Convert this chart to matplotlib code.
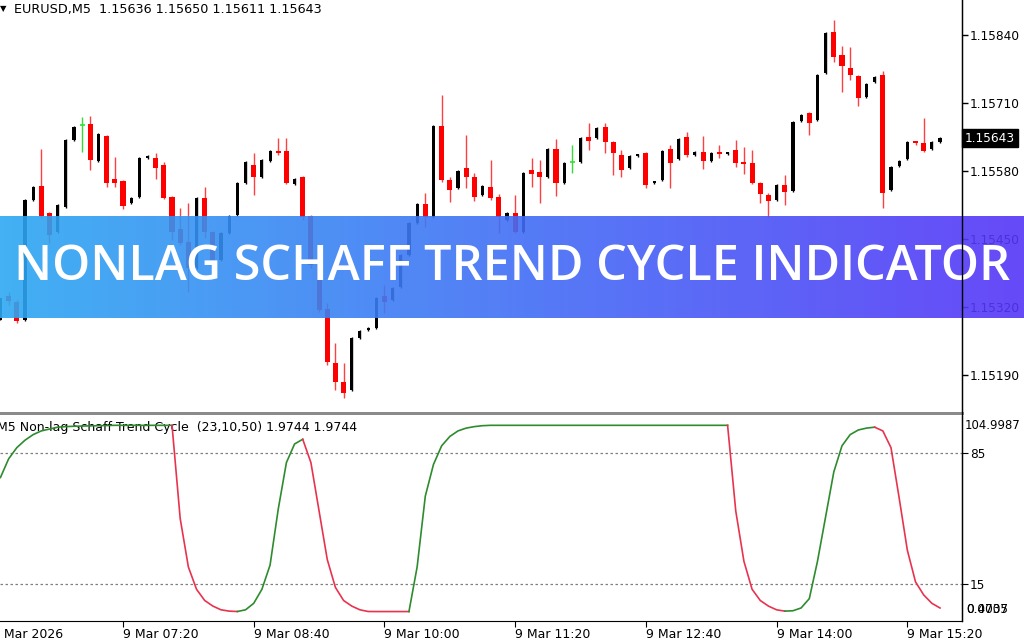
import numpy as np
import matplotlib
matplotlib.use("Agg")
import matplotlib.pyplot as plt
from matplotlib.colors import LinearSegmentedColormap
from matplotlib.patches import Rectangle
from matplotlib.lines import Line2D

# ---- data (EURUSD M5, 9 Mar 2026) ----
opens = [1.15295, 1.15341, 1.15330, 1.15295, 1.15525, 1.15551, 1.15500, 1.15463, 1.15511, 1.15639,
         1.15668, 1.15670, 1.15599, 1.15647, 1.15565, 1.15561, 1.15519, 1.15530, 1.15605, 1.15605,
         1.15591, 1.15530, 1.15469, 1.15444, 1.15395, 1.15528, 1.15463, 1.15410, 1.15461, 1.15496,
         1.15557, 1.15591, 1.15569, 1.15599, 1.15618, 1.15618, 1.15555, 1.15569, 1.15494, 1.15400,
         1.15316, 1.15213, 1.15177, 1.15161, 1.15261, 1.15276, 1.15280, 1.15341, 1.15333, 1.15358,
         1.15419, 1.15481, 1.15517, 1.15492, 1.15666, 1.15563, 1.15548, 1.15586, 1.15569, 1.15534,
         1.15549, 1.15530, 1.15486, 1.15500, 1.15463, 1.15582, 1.15578, 1.15569, 1.15622, 1.15557,
         1.15597, 1.15597, 1.15645, 1.15643, 1.15664, 1.15635, 1.15611, 1.15586, 1.15609, 1.15614,
         1.15557, 1.15563, 1.15622, 1.15603, 1.15645, 1.15611, 1.15616, 1.15599, 1.15614, 1.15613,
         1.15620, 1.15597, 1.15595, 1.15557, 1.15534, 1.15525, 1.15553, 1.15542, 1.15676, 1.15691,
         1.15678, 1.15767, 1.15846, 1.15802, 1.15777, 1.15762, 1.15722, 1.15750, 1.15764, 1.15544,
         1.15590, 1.15603, 1.15637, 1.15634, 1.15622, 1.15636]
highs = [1.15337, 1.15349, 1.15333, 1.15526, 1.15551, 1.15622, 1.15502, 1.15517, 1.15641, 1.15666,
         1.15683, 1.15685, 1.15653, 1.15649, 1.15607, 1.15563, 1.15530, 1.15607, 1.15611, 1.15614,
         1.15597, 1.15532, 1.15509, 1.15519, 1.15530, 1.15549, 1.15465, 1.15463, 1.15496, 1.15559,
         1.15599, 1.15614, 1.15603, 1.15620, 1.15643, 1.15643, 1.15567, 1.15570, 1.15496, 1.15402,
         1.15328, 1.15251, 1.15213, 1.15263, 1.15276, 1.15282, 1.15339, 1.15362, 1.15358, 1.15421,
         1.15482, 1.15519, 1.15538, 1.15668, 1.15725, 1.15569, 1.15582, 1.15649, 1.15576, 1.15553,
         1.15601, 1.15536, 1.15502, 1.15534, 1.15578, 1.15605, 1.15601, 1.15624, 1.15641, 1.15597,
         1.15630, 1.15645, 1.15672, 1.15664, 1.15672, 1.15637, 1.15620, 1.15611, 1.15613, 1.15616,
         1.15561, 1.15620, 1.15630, 1.15643, 1.15655, 1.15618, 1.15647, 1.15616, 1.15630, 1.15616,
         1.15639, 1.15626, 1.15620, 1.15559, 1.15538, 1.15555, 1.15572, 1.15676, 1.15689, 1.15693,
         1.15765, 1.15846, 1.15869, 1.15819, 1.15817, 1.15764, 1.15748, 1.15762, 1.15771, 1.15590,
         1.15601, 1.15637, 1.15637, 1.15681, 1.15637, 1.15645]
lows = [1.15295, 1.15324, 1.15289, 1.15293, 1.15523, 1.15490, 1.15442, 1.15461, 1.15509, 1.15637,
        1.15616, 1.15582, 1.15597, 1.15549, 1.15549, 1.15507, 1.15517, 1.15528, 1.15603, 1.15565,
        1.15526, 1.15448, 1.15439, 1.15349, 1.15393, 1.15452, 1.15400, 1.15408, 1.15460, 1.15494,
        1.15555, 1.15534, 1.15567, 1.15597, 1.15611, 1.15555, 1.15553, 1.15486, 1.15395, 1.15310,
        1.15209, 1.15161, 1.15146, 1.15159, 1.15259, 1.15274, 1.15278, 1.15309, 1.15331, 1.15356,
        1.15418, 1.15479, 1.15473, 1.15490, 1.15559, 1.15521, 1.15546, 1.15548, 1.15523, 1.15532,
        1.15525, 1.15461, 1.15484, 1.15461, 1.15461, 1.15549, 1.15519, 1.15567, 1.15532, 1.15555,
        1.15576, 1.15595, 1.15620, 1.15641, 1.15614, 1.15572, 1.15569, 1.15584, 1.15607, 1.15548,
        1.15555, 1.15561, 1.15548, 1.15601, 1.15607, 1.15609, 1.15584, 1.15597, 1.15605, 1.15611,
        1.15588, 1.15574, 1.15555, 1.15519, 1.15492, 1.15523, 1.15515, 1.15540, 1.15674, 1.15649,
        1.15676, 1.15765, 1.15788, 1.15731, 1.15754, 1.15704, 1.15720, 1.15748, 1.15509, 1.15542,
        1.15588, 1.15601, 1.15630, 1.15616, 1.15620, 1.15634]
closes = [1.15337, 1.15331, 1.15293, 1.15525, 1.15549, 1.15494, 1.15458, 1.15515, 1.15639, 1.15664,
          1.15668, 1.15601, 1.15651, 1.15557, 1.15557, 1.15513, 1.15528, 1.15605, 1.15609, 1.15586,
          1.15528, 1.15463, 1.15442, 1.15395, 1.15528, 1.15463, 1.15410, 1.15461, 1.15494, 1.15557,
          1.15597, 1.15569, 1.15601, 1.15618, 1.15614, 1.15557, 1.15565, 1.15492, 1.15400, 1.15314,
          1.15215, 1.15177, 1.15156, 1.15261, 1.15274, 1.15280, 1.15337, 1.15330, 1.15356, 1.15419,
          1.15481, 1.15517, 1.15492, 1.15666, 1.15563, 1.15544, 1.15580, 1.15569, 1.15530, 1.15551,
          1.15528, 1.15492, 1.15500, 1.15463, 1.15576, 1.15574, 1.15569, 1.15622, 1.15557, 1.15595,
          1.15597, 1.15643, 1.15637, 1.15662, 1.15635, 1.15614, 1.15582, 1.15609, 1.15611, 1.15553,
          1.15559, 1.15618, 1.15595, 1.15641, 1.15611, 1.15616, 1.15599, 1.15614, 1.15613, 1.15614,
          1.15595, 1.15593, 1.15557, 1.15536, 1.15523, 1.15553, 1.15540, 1.15674, 1.15687, 1.15672,
          1.15764, 1.15844, 1.15798, 1.15781, 1.15764, 1.15720, 1.15746, 1.15760, 1.15538, 1.15588,
          1.15599, 1.15635, 1.15633, 1.15618, 1.15635, 1.15643]

# Non-lag Schaff Trend Cycle (23,10,50)
stc = [72, 82, 88, 92, 95, 97, 98, 99, 99.3, 99.5, 99.6, 99.7, 99.8, 99.9, 100, 100, 100, 100, 100, 100, 100, 100,
       50, 24, 12, 6, 3, 1, 0.3, 0.1,
       1, 4.5, 12, 25, 55, 80, 90, 92.5,
       80, 54, 28, 13, 6, 3, 1, 0.1, 0.07, 0.07, 0.07, 0.07, 0.07,
       24, 62, 79, 89, 94, 97, 98.5, 99.3, 99.8] + [100] * 30 + \
      [54, 27, 12, 6, 3, 1, 0.3,
       0.5, 2, 7, 27, 51, 75, 89, 95, 97.5, 98.5, 99, 97, 88, 61, 33, 16, 9, 4.5, 1.9744]

price_ticks = [1.15840, 1.15710, 1.15580, 1.15450, 1.15320, 1.15190]
time_ticks = [16, 32, 48, 64, 80, 96, 112]
time_labels = ["9 Mar 07:20", "9 Mar 08:40", "9 Mar 10:00", "9 Mar 11:20",
               "9 Mar 12:40", "9 Mar 14:00", "9 Mar 15:20"]
last_price = 1.15643

W, H = 1024, 640
fig = plt.figure(figsize=(W / 100, H / 100), dpi=100)
fig.patch.set_facecolor("white")
plt.rcParams['font.family'] = ['DejaVu Sans']

xl = (0.945, 118.69)
ax = fig.add_axes([0, 1 - 411 / H, 962 / W, 411 / H])
ax.set_xlim(*xl)
ax.set_ylim(1.151212, 1.159069)

o = np.array(opens); hi = np.array(highs); lo = np.array(lows); c = np.array(closes)
x = np.arange(1, len(o) + 1)
bull = c > o
bear = c < o
doji = c == o

ax.vlines(x[bear], lo[bear], hi[bear], color="#ff4040", lw=1.0, zorder=2)
ax.vlines(x[bull], lo[bull], hi[bull], color="black", lw=1.0, zorder=2)
ax.vlines(x[doji], lo[doji], hi[doji], color="#33dd33", lw=1.0, zorder=2)
minh = 0.00003
ax.bar(x[bear], np.maximum(o[bear] - c[bear], minh), bottom=c[bear], width=0.62,
       color="#ff0000", zorder=3)
ax.bar(x[bull], np.maximum(c[bull] - o[bull], minh), bottom=o[bull], width=0.38,
       color="black", zorder=3)
ax.hlines(c[doji], x[doji] - 0.3, x[doji] + 0.3, color="#33dd33", lw=1.2, zorder=3)

for s in ["top", "left", "bottom"]:
    ax.spines[s].set_visible(False)
ax.spines["right"].set_color("black")
ax.set_xticks([])
ax.yaxis.tick_right()
ax.set_yticks(price_ticks)
ax.set_yticklabels(["%.5f" % p for p in price_ticks])
ax.tick_params(axis="y", length=4, width=1, pad=1.5, labelsize=8.7, colors="black")

ax.text(1.003, last_price, "%.5f" % last_price, transform=ax.get_yaxis_transform(),
        color="white", fontsize=8.7, va="center", ha="left",
        bbox=dict(facecolor="black", edgecolor="black", pad=1.8), clip_on=False, zorder=5)

fig.text(14 / W, 1 - 10 / H, "EURUSD,M5  1.15636 1.15650 1.15611 1.15643",
         fontsize=9.2, va="center", ha="left", color="black")
fig.text(0 / W, 1 - 9 / H, "\u25bc", fontsize=6, va="center", ha="left", color="black")

# ---- indicator pane ----
ax2 = fig.add_axes([0, 1 - 621 / H, 962 / W, 205 / H])
ax2.set_xlim(*xl)
ax2.set_ylim(-4.9987, 104.9987)
v = np.array(stc, dtype=float)
xi = np.arange(1, len(v) + 1)
ax2.axhline(85, color="#808080", lw=0.9, ls=(0, (2, 2)), zorder=1)
ax2.axhline(15, color="#808080", lw=0.9, ls=(0, (2, 2)), zorder=1)

trend = 1
cols = []
for i in range(1, len(v)):
    if v[i] > v[i - 1]:
        trend = 1
    elif v[i] < v[i - 1]:
        trend = -1
    cols.append(trend)
start = 0
for i in range(1, len(cols) + 1):
    if i == len(cols) or cols[i] != cols[start]:
        ax2.plot(xi[start:i + 1], v[start:i + 1],
                 color="#2e8b2e" if cols[start] > 0 else "#e8334f", lw=1.2, zorder=3,
                 solid_joinstyle="round")
        start = i

for s in ["top", "left"]:
    ax2.spines[s].set_visible(False)
ax2.spines["right"].set_color("black")
ax2.spines["bottom"].set_color("black")
ax2.yaxis.tick_right()
ax2.set_yticks([85, 15])
ax2.set_yticklabels(["85", "15"])
ax2.tick_params(axis="y", length=4, pad=1.5, labelsize=8.7)
ax2.set_xticks(time_ticks)
ax2.set_xticklabels(time_labels, ha="left")
ax2.tick_params(axis="x", length=4, pad=1, labelsize=9)
ax2.text(1.003, 0.985, "104.9987", transform=ax2.transAxes, fontsize=8.4, va="top", ha="left")
ax2.text(1.004, 0.055, "0.0735", transform=ax2.transAxes, fontsize=8.7, va="center", ha="left")
ax2.text(1.004, 0.055, "0.4007", transform=ax2.transAxes, fontsize=8.7, va="center", ha="left")
ax2.annotate("9 Mar 2026", xy=(0, 0), xycoords=ax2.get_xaxis_transform(),
             xytext=(0, -5), textcoords="offset points", fontsize=9, va="top", ha="left",
             annotation_clip=False)
ax2.text(-3 / 962, 1 - 11 / 205, "M5 Non-lag Schaff Trend Cycle  (23,10,50) 1.9744 1.9744",
         transform=ax2.transAxes, fontsize=9, va="center", ha="left", zorder=1)

# separator and right border
fig.add_artist(Rectangle((0, 1 - 415 / H), 964 / W, 3 / H, transform=fig.transFigure,
                         color="#8a8a8a", lw=0))
fig.add_artist(Line2D([962 / W, 962 / W], [1 - 621 / H, 1], transform=fig.transFigure,
                      color="black", lw=1))

# ---- banner ----
bax = fig.add_axes([0, 1 - 318 / H, 1, 102 / H])
cmap = LinearSegmentedColormap.from_list("ban", ["#2da8f2", "#5535f8"])
bax.imshow(np.linspace(0, 1, 256)[None, :], aspect="auto", cmap=cmap, alpha=0.9,
           extent=(0, 1, 0, 1))
bax.set_xlim(0, 1); bax.set_ylim(0, 1)
bax.axis("off")
t = bax.text(0.5, 0.5, "NONLAG SCHAFF TREND CYCLE INDICATOR", color="white",
             fontsize=34, ha="center", va="center", family="Open Sans", weight="semibold")
fig.canvas.draw()
bb = t.get_window_extent()
t.set_fontsize(34 * 996 / bb.width)

fig.savefig("out.png", dpi=100, facecolor="white")
